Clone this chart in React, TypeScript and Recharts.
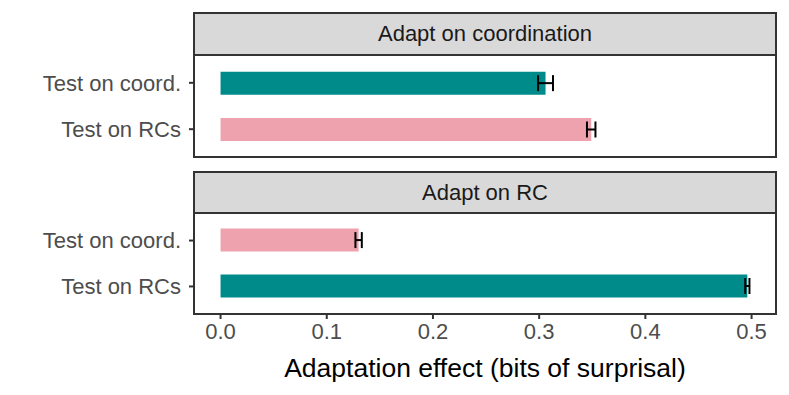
import { Bar, BarChart, Cell, ErrorBar, XAxis, YAxis } from "recharts";

const testLabels = ["Test on coord.", "Test on RCs"];
const testPos = [1, 2];
const xTicks = [0, 0.1, 0.2, 0.3, 0.4, 0.5];

// Adapt on coordination
const coordEffect = [0.306, 0.349];
const coordErr = [0.007, 0.004];
const coordMatched = [true, false];

// Adapt on RC
const rcEffect = [0.13, 0.496];
const rcErr = [0.003, 0.002];
const rcMatched = [false, true];

const TEAL = "#008B8B";
const PINK = "#EEA2AD";
const FONT = '"Liberation Sans", Arial, sans-serif';
const X_DOMAIN: [number, number] = [-0.025, 0.523];

const toRows = (vals: number[], errs: number[]) =>
  testPos.map((pos, i) => ({ pos, effect: vals[i], err: errs[i] }));

const coordRows = toRows(coordEffect, coordErr);
const rcRows = toRows(rcEffect, rcErr);

const tickText = { fontSize: 22, fill: "#4D4D4D", fontFamily: FONT };

function Panel({
  rows,
  matched,
  height,
  top,
  bottomAxis,
}: {
  rows: { pos: number; effect: number; err: number }[];
  matched: boolean[];
  height: number;
  top: number;
  bottomAxis: boolean;
}) {
  return (
    <BarChart
      width={789}
      height={height}
      layout="vertical"
      data={rows}
      margin={{ top, right: 13, bottom: bottomAxis ? 0 : 3, left: 0 }}
      style={{ position: "absolute", left: 0, top: 0 }}
    >
      <XAxis
        type="number"
        domain={X_DOMAIN}
        allowDataOverflow
        ticks={xTicks}
        tickFormatter={(v: number) => v.toFixed(1)}
        hide={!bottomAxis}
        height={81}
        axisLine={false}
        tickSize={5}
        tickMargin={4}
        tickLine={{ stroke: "#333333", strokeWidth: 2 }}
        tick={tickText}
        interval={0}
      />
      <YAxis
        type="number"
        dataKey="pos"
        domain={[0.4, 2.6]}
        ticks={testPos}
        tickFormatter={(v: number) => testLabels[v - 1]}
        width={194}
        axisLine={false}
        tickSize={5}
        tickMargin={8}
        tickLine={{ stroke: "#333333", strokeWidth: 2 }}
        tick={tickText}
        interval={0}
      />
      <Bar dataKey="effect" barSize={23} isAnimationActive={false}>
        {rows.map((r, i) => (
          <Cell key={r.pos} fill={matched[i] ? TEAL : PINK} />
        ))}
        <ErrorBar
          dataKey="err"
          direction="x"
          width={8}
          stroke="#000000"
          strokeWidth={2}
        />
      </Bar>
    </BarChart>
  );
}

const stripStyle = (top: number, height: number) => ({
  position: "absolute" as const,
  left: 193,
  top,
  width: 584,
  height,
  boxSizing: "border-box" as const,
  background: "#D9D9D9",
  border: "2px solid #333333",
  display: "flex",
  alignItems: "center",
  justifyContent: "center",
  fontSize: 22,
  color: "#1A1A1A",
  fontFamily: FONT,
});

const frameStyle = (top: number, height: number) => ({
  position: "absolute" as const,
  left: 193,
  top,
  width: 584,
  height,
  boxSizing: "border-box" as const,
  border: "2px solid #333333",
  pointerEvents: "none" as const,
});

export default function App() {
  return (
    <div
      style={{
        position: "absolute",
        left: 0,
        top: 0,
        width: 789,
        height: 395,
        background: "#ffffff",
        fontFamily: FONT,
      }}
    >
      <Panel rows={coordRows} matched={coordMatched} height={160} top={55} bottomAxis={false} />
      <Panel rows={rcRows} matched={rcMatched} height={395} top={213} bottomAxis />
      <div style={stripStyle(12, 44)}>Adapt on coordination</div>
      <div style={frameStyle(54, 104)} />
      <div style={stripStyle(171, 43)}>Adapt on RC</div>
      <div style={frameStyle(212, 103)} />
      <div
        style={{
          position: "absolute",
          left: 194,
          width: 582,
          top: 352,
          lineHeight: "32px",
          textAlign: "center",
          fontSize: 26.5,
          color: "#000000",
          fontFamily: FONT,
        }}
      >
        Adaptation effect (bits of surprisal)
      </div>
    </div>
  );
}
